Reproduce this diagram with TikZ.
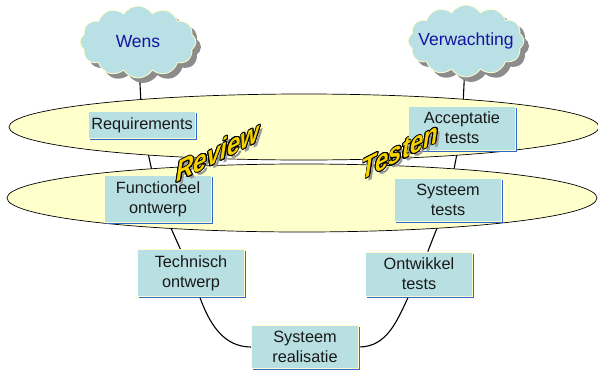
\documentclass[tikz,border=0pt]{standalone}
\usepackage{fontspec}
\setmainfont{Liberation Sans}
\usepackage{contour}
\usetikzlibrary{shapes.symbols,shadows,positioning}

\definecolor{cloudfill}{RGB}{185,224,228}
\definecolor{boxfill}{RGB}{184,224,227}
\definecolor{boxedge}{RGB}{51,102,204}
\definecolor{paleyellow}{RGB}{255,255,204}
\definecolor{wishblue}{RGB}{20,20,160}
\definecolor{artyellow}{RGB}{245,210,0}
\contourlength{0.7pt}
\pgfdeclarelayer{background}
\pgfsetlayers{background,main}

\begin{document}
\begin{tikzpicture}[x=1pt,y=-1pt,on grid,
    wish/.style={cloud,cloud puffs=12,cloud puff arc=115,cloud ignores aspect,
        minimum width=116,minimum height=72,inner ysep=0pt,inner xsep=-10pt,
        fill=cloudfill,draw=paleyellow,line width=0.8pt,
        text=wishblue,font=\fontsize{17.5}{20}\selectfont,
        drop shadow={shadow xshift=5pt,shadow yshift=-5pt,fill=black!45,opacity=1}},
    stage/.style={rectangle,fill=boxfill,draw=paleyellow,line width=0.8pt,
        minimum width=107,minimum height=26,inner xsep=2pt,inner ysep=6pt,align=center,
        text=black!90,font=\fontsize{16.3}{20}\selectfont,
        drop shadow={shadow xshift=1.6pt,shadow yshift=-1.6pt,fill=boxedge,opacity=1}},
    band/.style={draw=black,fill=paleyellow,line width=0.7pt},
    link/.style={draw=black,line width=1.1pt},
    art/.style={font=\fontsize{24}{24}\bfseries\itshape\selectfont,yscale=1.2,yslant=0.42,anchor=base}]
    \useasboundingbox (0,0) rectangle (598,370);
    % the two bands
    \draw[band] (302,198) ellipse [x radius=295,y radius=34];
    \draw[band] (304,127) ellipse [x radius=295,y radius=33];

    \node[stage] (req) at (142,125) {Requirements};
    \node[stage] (func) [below right=74pt and 16pt of req] {Functioneel\\ontwerp};
    \node[stage] (tech) [below right=74pt and 33pt of func] {Technisch\\ontwerp};
    \node[stage] (real) [below right=74pt and 114pt of tech] {Systeem\\realisatie};
    \node[stage] (dev) [above right=73pt and 114pt of real] {Ontwikkel\\tests};
    \node[stage] (sys) [above right=74pt and 29pt of dev] {Systeem\\tests};
    \node[stage] (acc) [above right=72pt and 14pt of sys] {Acceptatie\\tests};
    \node[wish] (wens) [above left=83pt and 4pt of req] {Wens};
    \node[wish] (expect) [above right=87pt and 4pt of acc] {Verwachting};

    \begin{pgfonlayer}{background}
    \path[link]
        (wens) edge (req)
        (req) edge (func)
        (func) edge (tech)
        (tech) edge [out=-70,in=180] (real)
        (real) edge [out=0,in=-115] (dev)
        (dev) edge (sys)
        (sys) edge (acc)
        (acc) edge (expect);
    \end{pgfonlayer}

    % review and test words
    \node[art,text=black!40] (reviewshade) at (221,165) {Review};
    \node[art,text=artyellow] (review) at (218,162) {\contour{black}{Review}};
    \node[art,text=black!40] (testshade) at (403,164) {Testen};
    \node[art,text=artyellow] (test) at (400,161) {\contour{black}{Testen}};
\end{tikzpicture}
\end{document}
